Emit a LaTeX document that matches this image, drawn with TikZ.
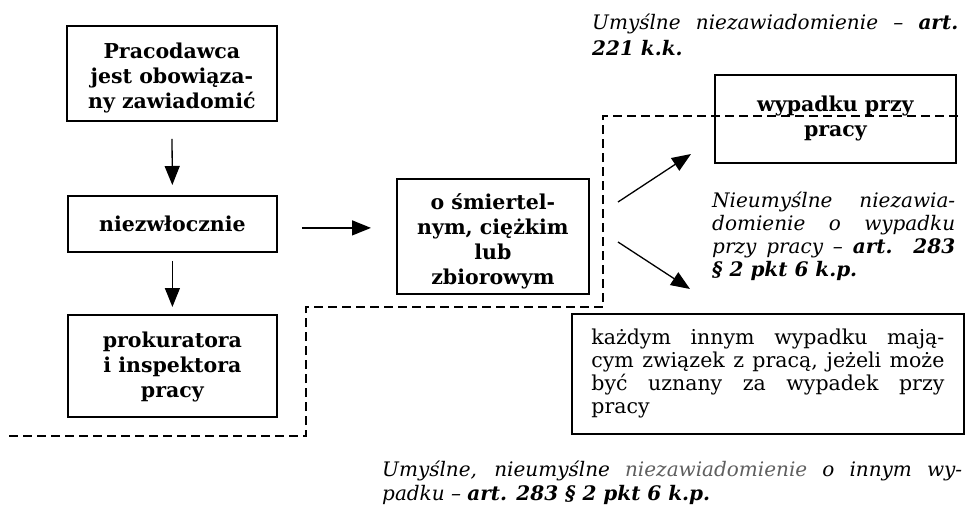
\documentclass[tikz,border=0pt]{standalone}
\usepackage{fontspec}
\setmainfont{DejaVu Serif}
\usetikzlibrary{arrows.meta,calc}
\definecolor{notegray}{RGB}{95,95,95}
\newcommand\jline[2]{\makebox[#1][s]{#2}}
\begin{document}
\begin{tikzpicture}[x=1pt,y=-1pt,
  box/.style={draw, line width=1.8pt, inner sep=0pt, anchor=north west, align=center,
    font=\bfseries\fontsize{20.5}{25}\selectfont},
  plainbox/.style={draw, line width=1.8pt, inner sep=0pt, anchor=north west,
    font=\fontsize{20.5}{23}\selectfont},
  arr/.style={line width=1.3pt, -{Triangle[length=19pt,width=15pt]}},
  dashline/.style={line width=1.8pt, dash pattern=on 9pt off 5pt},
  note/.style={inner sep=0pt, anchor=base west}
]
\useasboundingbox (0,0) rectangle (965,506);

% boxes
\node[box, minimum width=210, minimum height=95] (b1) at (66,25)
  {\rule{0pt}{24pt}Pracodawca\\jest obowiąza-\\ny zawiadomić};
\node[box, minimum width=209, minimum height=56] (b2) at (67,195) {niezwłocznie};
\node[box, minimum width=209, minimum height=102] (b3) at (67,314)
  {\rule{0pt}{18pt}prokuratora\\i inspektora\\pracy};
\node[box, minimum width=192, minimum height=115] (b4) at (396,178)
  {\rule{0pt}{26pt}o śmiertel-\\nym, ciężkim\\lub\\zbiorowym};
\node[box, fill=white, minimum width=241, minimum height=88] (b5) at (714,74)
  {wypadku przy\\pracy};
\node[plainbox, minimum width=392, minimum height=120] (b6) at (571,313)
  {\parbox{353pt}{\fontsize{20.5}{23}\selectfont
    \jline{353pt}{każdym innym wypadku mają-}\\
    \jline{353pt}{cym związek z pracą, jeżeli może}\\
    \jline{353pt}{być uznany za wypadek przy}\\
    pracy}};

% notes
\node[note] (n1) at (592,29)
  {\parbox[t]{366pt}{\itshape\fontsize{20}{26}\selectfont
    \jline{366pt}{Umyślne niezawiadomienie – \textbf{art.}}\\
    \textbf{221 k.k.}}};
\node[note] (n2) at (712,207)
  {\parbox[t]{243pt}{\itshape\fontsize{20}{23.3}\selectfont
    \jline{243pt}{Nieumyślne niezawia-}\\
    \jline{243pt}{domienie o wypadku}\\
    \jline{243pt}{przy pracy – \textbf{art. 283}}\\
    \textbf{§ 2 pkt 6 k.p.}}};
\node[note] (n3) at (382,476)
  {\parbox[t]{580pt}{\itshape\fontsize{20}{24.5}\selectfont
    \jline{580pt}{Umyślne, nieumyślne \textcolor{notegray}{niezawiadomienie} o innym wy-}\\
    padku – \textbf{art. 283 § 2 pkt 6 k.p.}}};

% dashed boundary
\draw[dashline] (9,436) -- (306,436) -- (306,307) -- (603,307) -- (603,116) -- (960,116);

% arrows
\draw[arr, shorten <=17pt, shorten >=10pt] (b1.south) -- (b2.north);
\draw[arr, shorten <=8pt, shorten >=7pt] (b2.south) -- (b3.north);
\draw[arr] ($(b2.east)+(24,4)$) -- ($(b2.east -| b4.west)+(-25,4)$);
\coordinate (a4s) at (618,202);
\coordinate (a4e) at (691,154);
\coordinate (a5s) at (618,242);
\coordinate (a5e) at (690,289);
\draw[arr] (a4s) -- (a4e);
\draw[arr] (a5s) -- (a5e);
\end{tikzpicture}
\end{document}
